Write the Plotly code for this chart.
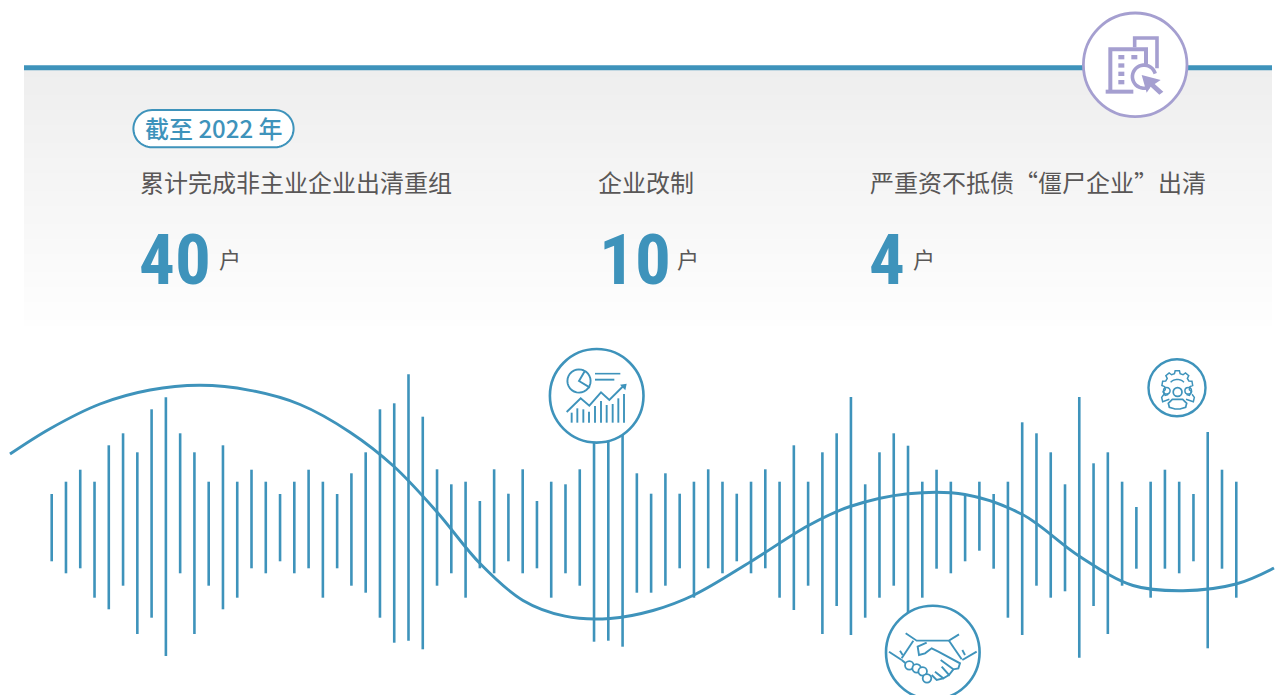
import math
import plotly.graph_objects as go

# ---------- data ----------
bar_top = [494, 481.7, 469.7, 481.7, 445.3, 433.3, 452.3, 409.3, 397.3, 433.3, 452.3, 481.7, 445.3, 481.7, 469.7, 481.7, 494,
           481.7, 469.7, 481.7, 494, 473.3, 452.3, 409.3, 403.3, 374.3, 416.7,
           469.3, 484.3, 481.7, 501, 469.3, 493.7, 469.3, 501, 481.7, 484.3, 469.3, 425, 425, 425,
           473.3, 493.7, 473.3, 493.7, 481.7, 469.3, 481.7, 493.7, 481.7, 469.3, 481.7, 445.3, 481.7, 452.3, 433.3,
           397, 484.3, 452.3, 433.3, 445.7, 481.7, 469.7, 481.7, 495, 481.7, 494, 481.7, 422.3, 433.3, 452.3, 484.3,
           397, 463.3, 452.3, 481.7, 507, 481.7, 469.7, 481.7, 494, 432, 469.7, 481.7]
bar_bottom = [561.3, 573.3, 568.3, 597.7, 609.3, 585.7, 634, 617.7, 656, 573.3, 634, 585.7, 609.3, 597.7, 568.3, 573.3, 561.3,
              573.3, 568.3, 597.7, 568.3, 585.7, 592.7, 617.7, 642.7, 640.7, 649.3,
              585.7, 573.3, 597.7, 568.3, 573.3, 561.3, 573.3, 568.3, 597.7, 573.3, 585.7, 641.7, 640.7, 646.7,
              592.7, 592.7, 585.7, 568.3, 597.7, 568.3, 573.3, 561.3, 573.3, 568.3, 597.7, 610, 585.7, 634, 606,
              635, 617.7, 597.7, 585.7, 640, 597.7, 568.7, 573.3, 561.3, 550.7, 568.7, 617.7, 635, 585.7, 597.7, 591.3,
              657.7, 606, 634, 585.7, 568.7, 597.7, 568.7, 573.3, 561.3, 648.3, 568.7, 597.7]

curve_x = [10, 50, 100, 150, 200, 250, 300, 350, 394, 437, 480, 523, 565, 610, 653, 694, 751, 808, 850, 908, 965, 1022,
           1079, 1133, 1183, 1236, 1274]
curve_y = [454, 428.7, 404, 390, 385.3, 390.3, 404.5, 432.2, 466.5, 512, 563.5, 600.5, 616.2, 618.5, 610.5, 595, 561.5,
           525.7, 506.5, 493.7, 494.5, 514.3, 556, 585.5, 590.7, 584, 568]

badge_text = "截至 2022 年"
stat_labels = ["累计完成非主业企业出清重组", "企业改制", "严重资不抵债“僵尸企业”出清"]
stat_values = ["40", "10", "4"]
stat_unit = "户"

# ---------- styles ----------
BLUE = "#3e93bb"
PURPLE = "#a59fd0"
GREY = "#595757"
CJK = "Noto Sans CJK SC"
W, H = 1283, 695
X0, STEP = 51.7, 14.272

shapes = []


def to_path(pts, close=False):
    s = "M" + " L".join(f"{x:.2f},{y:.2f}" for x, y in pts)
    return s + (" Z" if close else "")


def stroke(pts, color=BLUE, width=1.5, close=False, fill=None):
    shapes.append(dict(type="path", path=to_path(pts, close), xref="x", yref="y", layer="above",
                       line=dict(color=color, width=width), fillcolor=fill or "rgba(0,0,0,0)"))


def filled(pts, color=BLUE):
    shapes.append(dict(type="path", path=to_path(pts, True), xref="x", yref="y", layer="above",
                       line=dict(width=0), fillcolor=color))


def ring(cx, cy, r, color=BLUE, width=1.5, fill=None):
    shapes.append(dict(type="circle", xref="x", yref="y", layer="above", x0=cx - r, x1=cx + r, y0=cy - r, y1=cy + r,
                       line=dict(color=color, width=width), fillcolor=fill or "rgba(0,0,0,0)"))


def arc(cx, cy, r, a0, a1, n=28):
    return [(cx + r * math.cos(math.radians(a0 + (a1 - a0) * i / n)),
             cy + r * math.sin(math.radians(a0 + (a1 - a0) * i / n))) for i in range(n + 1)]


def z(ox, oy, pts):
    """crop-scale (3x) points to page pixels"""
    return [(ox + x / 3, oy + y / 3) for x, y in pts]


# panel gradient
PANEL_T, PANEL_B = 68, 326
for i in range(0, PANEL_B - PANEL_T, 3):
    c = round(238 + 16 * i / (PANEL_B - PANEL_T))
    shapes.append(dict(type="rect", xref="x", yref="y", layer="below", x0=24, x1=1272,
                       y0=PANEL_T + i, y1=min(PANEL_T + i + 4, PANEL_B), line=dict(width=0),
                       fillcolor=f"rgb({c},{c},{c})"))
# top rule
shapes.append(dict(type="rect", xref="x", yref="y", layer="below", x0=24, x1=1272, y0=65.3, y1=70.3,
                   line=dict(width=0), fillcolor=BLUE))
# badge pill
pill = arc(152, 128.7, 18.6, 90, 270) + arc(275, 128.7, 18.6, -90, 90)
shapes.append(dict(type="path", path=to_path(pill, True), xref="x", yref="y", layer="below",
                   line=dict(color=BLUE, width=2), fillcolor="#ffffff"))

# --- icon circles
ring(596.7, 395.8, 46.8, BLUE, 2.6, "#ffffff")
ring(932.8, 652.5, 46.8, BLUE, 2.6, "#ffffff")
ring(1177, 387.8, 28.5, BLUE, 2.4, "#ffffff")
ring(1135.2, 64.8, 51.8, PURPLE, 2.8, "#ffffff")

# --- chart icon
o = (540, 340)
stroke(arc(579, 381, 11.6, -65, 295), width=1.9)
stroke(z(*o, [(135, 92), (117, 123), (150, 143)]), width=1.9)
stroke(z(*o, [(165, 101), (241, 101)]), width=1.6)
stroke(z(*o, [(165, 119), (223, 119)]), width=1.9)
stroke(z(*o, [(80, 216), (122, 175), (148, 197), (183, 157), (208, 180), (250, 138)]), width=1.9)
filled(z(*o, [(240, 134), (260, 131), (256, 151)]))
for bx, bt in zip([95, 112, 130, 147, 165, 183, 200, 218, 235, 252], [218, 205, 208, 215, 198, 183, 195, 192, 175, 162]):
    stroke(z(*o, [(bx, bt), (bx, 248)]), width=1.9)

# --- handshake icon
o = (875, 600)
for seg in ([(42, 155), (80, 180)], [(305, 155), (262, 180)],
            [(92, 100), (125, 122), (222, 122), (252, 103)],
            [(115, 122), (80, 175)], [(222, 122), (260, 178)],
            [(75, 152), (83, 165)], [(262, 150), (270, 165)],
            [(155, 128), (128, 140), (132, 165), (150, 160), (170, 145), (190, 155), (255, 190), (250, 205), (235, 208), (197, 180)],
            [(235, 208), (222, 225), (200, 200)], [(222, 225), (205, 235), (180, 215)],
            [(205, 235), (185, 240), (170, 225)], [(80, 180), (92, 190)]):
    stroke(z(*o, seg), width=1.9)
for cx, cy in [(103, 196), (125, 205), (143, 214), (156, 235)]:
    ring(o[0] + cx / 3, o[1] + cy / 3, 4.3, width=1.8, fill="#ffffff")

# --- gear-and-people icon
gx, gy, teeth = 1177.3, 386, []
for k in range(-3, 4):
    a = -90 + k * 40
    teeth += [(gx + 12.6 * math.cos(math.radians(a - 13)), gy + 12.6 * math.sin(math.radians(a - 13))),
              (gx + 15.4 * math.cos(math.radians(a - 8)), gy + 15.4 * math.sin(math.radians(a - 8))),
              (gx + 15.4 * math.cos(math.radians(a + 8)), gy + 15.4 * math.sin(math.radians(a + 8))),
              (gx + 12.6 * math.cos(math.radians(a + 13)), gy + 12.6 * math.sin(math.radians(a + 13)))]
stroke(teeth, width=1.5)
stroke(arc(gx, gy + 3, 9.5, -135, -45), width=1.4)
ring(1177.6, 392, 4.4, width=1.7)
ring(1166.8, 390.8, 3.3, width=1.5)
ring(1188.2, 390.8, 3.3, width=1.5)
o = (1140, 350)
stroke(z(*o, [(88, 172), (85, 160), (97, 148), (128, 148), (140, 160), (137, 172), (120, 177), (105, 177)]), width=1.7, close=True)
stroke(z(*o, [(88, 148), (68, 155), (65, 142), (72, 133)]), width=1.5)
stroke(z(*o, [(138, 148), (160, 155), (163, 142), (156, 133)]), width=1.5)

# --- buildings icon (purple)
o = (1060, 0)
stroke(z(*o, [(224, 142), (224, 114), (291, 114), (291, 205)]), PURPLE, 3.6)
stroke(z(*o, [(151, 272), (151, 148), (258, 148), (258, 198)]), PURPLE, 4.0)
stroke(z(*o, [(137, 275), (220, 275)]), PURPLE, 4.0)
for x0, y0 in [(175, 165), (214, 165), (175, 190), (175, 215), (175, 240)]:
    filled(z(*o, [(x0, y0), (x0 + 18, y0), (x0 + 18, y0 + 13), (x0, y0 + 13)]), PURPLE)
stroke(arc(o[0] + 252 / 3, o[1] + 230 / 3, 11.6, 65, 345), PURPLE, 3.6)
filled(z(*o, [(245, 225), (302, 240), (284, 252), (310, 275), (298, 284), (272, 260), (260, 278)]), PURPLE)

# ---------- text ----------
ann = []


def add_text(x, y, text, size, color, family=CJK, weight=400, anchor="left"):
    ann.append(dict(x=x, y=y, xref="x", yref="y", text=text, showarrow=False, xanchor=anchor, yanchor="middle",
                    borderpad=0, font=dict(size=size, color=color, family=family, weight=weight)))


add_text(214, 127, badge_text, 24, BLUE, weight=500, anchor="center")
label_x = [139, 597, 869]
value_x = [138, 598, 868]
unit_x = [217.5, 675.5, 911.5]
for lx, vx, ux, lab, val in zip(label_x, value_x, unit_x, stat_labels, stat_values):
    add_text(lx, 181, lab, 24, GREY)
    add_text(vx, 259, val, 71, BLUE, family="Roboto Condensed, Roboto", weight=700)
    add_text(ux, 258, stat_unit, 22, GREY)

# ---------- marks ----------
fig = go.Figure()
fig.add_trace(go.Bar(x=[X0 + i * STEP for i in range(len(bar_top))],
                     y=[b - t for t, b in zip(bar_top, bar_bottom)], base=bar_top, width=2.6,
                     marker=dict(color=BLUE, line=dict(width=0)), hoverinfo="skip"))
fig.add_trace(go.Scatter(x=curve_x, y=curve_y, mode="lines", line=dict(color=BLUE, width=2.9, shape="spline", smoothing=1),
                         hoverinfo="skip"))
fig.update_layout(width=W, height=H, margin=dict(l=0, r=0, t=0, b=0), showlegend=False,
                  paper_bgcolor="#ffffff", plot_bgcolor="#ffffff", shapes=shapes, annotations=ann,
                  xaxis=dict(range=[0, W], visible=False, fixedrange=True),
                  yaxis=dict(range=[H, 0], visible=False, fixedrange=True))
fig.write_html("out.html", post_script="document.body.style.margin='0';document.body.style.overflow='hidden';",
               config=dict(displayModeBar=False))
